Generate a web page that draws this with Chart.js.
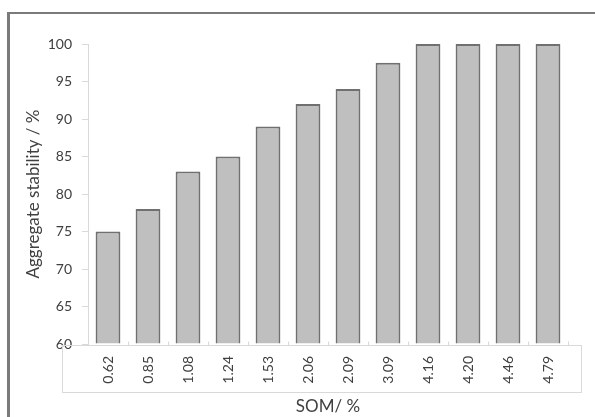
<!DOCTYPE html>
<html>
<head>
<meta charset="utf-8">
<script src="https://cdn.jsdelivr.net/npm/chart.js@4/dist/chart.umd.min.js"></script>
<style>
  html, body { margin: 0; padding: 0; background: #fff; width: 595px; height: 417px; overflow: hidden; }
  #frame { position: absolute; left: 7px; top: 12px; width: 700px; height: 500px;
           border-top: 2px solid #7a7a7a; border-left: 3px solid #7a7a7a; }
  canvas { position: absolute; left: 0; top: 0; }
</style>
</head>
<body>
<div id="frame"></div>
<canvas id="c" width="595" height="417"></canvas>
<script>
const categories = ["0.62", "0.85", "1.08", "1.24", "1.53", "2.06", "2.09", "3.09", "4.16", "4.20", "4.46", "4.79"];
const stability = [75, 78, 83, 85, 89, 92, 94, 97.5, 100, 100, 100, 100];
const yTicks = [60, 65, 70, 75, 80, 85, 90, 95, 100];

const FONT = "Lato, 'Open Sans', sans-serif";
const TEXT = "#404040";
const LINE = "#d9d9d9";

const labelBox = {
  id: "labelBox",
  afterDraw(chart) {
    const { ctx, chartArea } = chart;
    const x = chart.scales.x;
    const yb = chartArea.bottom + 1.5;
    ctx.save();
    ctx.strokeStyle = LINE;
    ctx.lineWidth = 1;
    const left = chartArea.left - 26, right = chartArea.right + 14, bottom = yb + 47;
    ctx.beginPath();
    ctx.moveTo(left, yb); ctx.lineTo(right, yb);
    ctx.moveTo(left + 0.5, yb); ctx.lineTo(left + 0.5, bottom);
    ctx.moveTo(right - 0.5, yb); ctx.lineTo(right - 0.5, bottom);
    ctx.moveTo(left, bottom); ctx.lineTo(right, bottom);
    const n = categories.length;
    const step = (x.getPixelForValue(1) - x.getPixelForValue(0));
    for (let i = 0; i <= n; i++) {
      const px = Math.round(x.getPixelForValue(0) - step / 2 + i * step) + 0.5;
      ctx.moveTo(px, yb - 4); ctx.lineTo(px, yb);
    }
    ctx.stroke();
    ctx.restore();
  }
};

new Chart(document.getElementById("c"), {
  type: "bar",
  data: {
    labels: categories,
    datasets: [{
      data: stability,
      base: 60,
      backgroundColor: "#bfbfbf",
      borderColor: "#707070",
      borderWidth: 2,
      barPercentage: 0.62,
      categoryPercentage: 1.0,
      clip: false
    }]
  },
  options: {
    responsive: false,
    animation: false,
    devicePixelRatio: 1,
    layout: { padding: { left: 0, top: 44, right: 27, bottom: 0 } },
    plugins: { legend: { display: false }, tooltip: { enabled: false } },
    scales: {
      x: {
        grid: { display: false, drawTicks: false },
        border: { display: false },
        ticks: {
          color: TEXT, font: { family: FONT, size: 14 },
          minRotation: 90, maxRotation: 90, padding: 12, autoSkip: false
        },
        title: {
          display: true, text: "SOM/ %", color: TEXT,
          font: { family: FONT, size: 17 }, padding: { top: 0, bottom: 0 }
        },
        afterFit(s) { s.height = 73; }
      },
      y: {
        min: 60, max: 100,
        afterBuildTicks(s) { s.ticks = yTicks.map(v => ({ value: v })); },
        grid: { drawOnChartArea: false, drawTicks: true, tickLength: 6, color: LINE },
        border: { display: true, color: LINE },
        ticks: { color: TEXT, font: { family: FONT, size: 14 }, padding: 10 },
        title: {
          display: true, text: "Aggregate stability / %", color: TEXT,
          font: { family: FONT, size: 17 }, padding: { top: 23, bottom: 0 }
        },
        afterFit(s) { s.width = 88; }
      }
    }
  },
  plugins: [labelBox]
});
</script>
</body>
</html>
